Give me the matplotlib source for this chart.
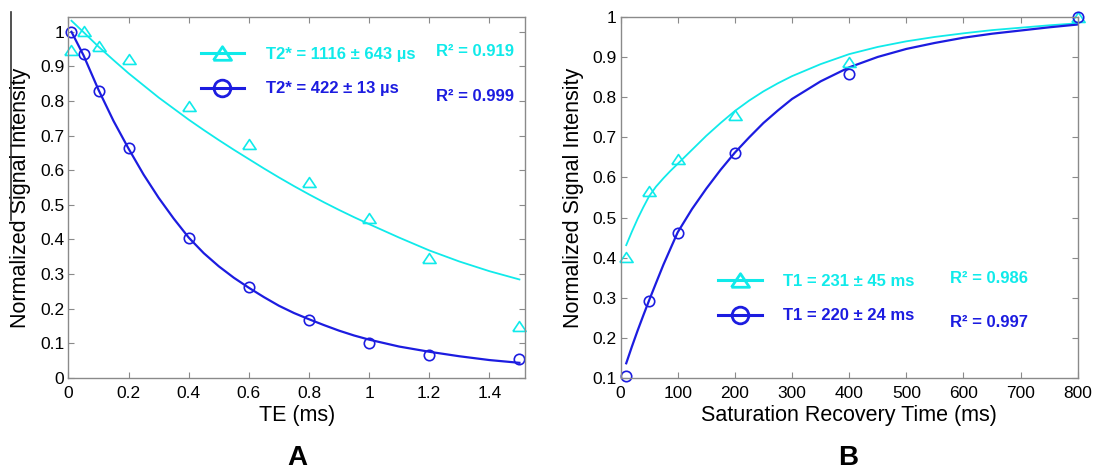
import matplotlib
matplotlib.use("Agg")
import matplotlib.pyplot as plt
from matplotlib.lines import Line2D

plt.rcParams["font.family"] = ["Liberation Sans", "DejaVu Sans"]

CYAN = "#10EAEA"
BLUE = "#1C1CE0"
TRI = [(-1.0, -0.75), (1.0, -0.75), (0.0, 0.75), (-1.0, -0.75)]

# panel A: T2* decay
te_ms = [0.01, 0.05, 0.1, 0.2, 0.4, 0.6, 0.8, 1.0, 1.2, 1.5]
a_tri = [0.947, 1.002, 0.960, 0.921, 0.785, 0.675, 0.566, 0.462, 0.345, 0.150]
a_circ = [1.000, 0.935, 0.830, 0.664, 0.403, 0.261, 0.166, 0.099, 0.066, 0.053]
a_fit_x = [0.01, 0.05, 0.1, 0.15, 0.2, 0.25, 0.3, 0.35, 0.4, 0.45, 0.5, 0.55, 0.6, 0.65,
           0.7, 0.75, 0.8, 0.85, 0.9, 0.95, 1.0, 1.1, 1.2, 1.3, 1.4, 1.5]
a_fit_tri = [1.032, 0.999, 0.957, 0.918, 0.880, 0.845, 0.810, 0.778, 0.746, 0.716, 0.687,
             0.659, 0.632, 0.605, 0.579, 0.554, 0.530, 0.507, 0.485, 0.464, 0.444, 0.405,
             0.368, 0.336, 0.308, 0.284]
a_fit_circ = [1.000, 0.932, 0.832, 0.742, 0.662, 0.587, 0.520, 0.460, 0.405, 0.360, 0.322,
              0.289, 0.260, 0.233, 0.208, 0.187, 0.169, 0.152, 0.136, 0.122, 0.110, 0.090,
              0.075, 0.062, 0.051, 0.043]
a_xticks = [0, 0.2, 0.4, 0.6, 0.8, 1.0, 1.2, 1.4]
a_xlabels = ["0", "0.2", "0.4", "0.6", "0.8", "1", "1.2", "1.4"]
a_yticks = [0, 0.1, 0.2, 0.3, 0.4, 0.5, 0.6, 0.7, 0.8, 0.9, 1.0]
a_ylabels = ["0", "0.1", "0.2", "0.3", "0.4", "0.5", "0.6", "0.7", "0.8", "0.9", "1"]
a_legend = ["T2* = 1116 \u00b1 643 \u00b5s", "T2* = 422 \u00b1 13 \u00b5s"]
a_r2 = ["R\u00b2 = 0.919", "R\u00b2 = 0.999"]

# panel B: T1 saturation recovery
sr_ms = [10, 50, 100, 200, 400, 800]
b_tri = [0.402, 0.565, 0.646, 0.756, 0.889, 1.000]
b_circ = [0.104, 0.292, 0.461, 0.661, 0.858, 1.000]
b_fit_x = [10, 20, 30, 40, 50, 62, 75, 87, 100, 125, 150, 175, 200, 225, 250, 275, 300,
           350, 400, 450, 500, 550, 600, 650, 700, 750, 800]
b_fit_tri = [0.431, 0.465, 0.497, 0.526, 0.553, 0.577, 0.598, 0.616, 0.634, 0.669, 0.704,
             0.736, 0.766, 0.792, 0.815, 0.835, 0.853, 0.883, 0.908, 0.926, 0.940, 0.951,
             0.960, 0.968, 0.974, 0.980, 0.985]
b_fit_circ = [0.136, 0.178, 0.218, 0.256, 0.293, 0.336, 0.382, 0.421, 0.463, 0.521, 0.572,
              0.619, 0.662, 0.700, 0.736, 0.767, 0.796, 0.840, 0.875, 0.901, 0.921, 0.936,
              0.949, 0.959, 0.967, 0.975, 0.982]
b_xticks = [0, 100, 200, 300, 400, 500, 600, 700, 800]
b_xlabels = ["0", "100", "200", "300", "400", "500", "600", "700", "800"]
b_yticks = [0.1, 0.2, 0.3, 0.4, 0.5, 0.6, 0.7, 0.8, 0.9, 1.0]
b_ylabels = ["0.1", "0.2", "0.3", "0.4", "0.5", "0.6", "0.7", "0.8", "0.9", "1"]
b_legend = ["T1 = 231 \u00b1 45 ms", "T1 = 220 \u00b1 24 ms"]
b_r2 = ["R\u00b2 = 0.986", "R\u00b2 = 0.997"]


def style_axes(ax, xticks, xlabels, yticks, ylabels):
    for sp in ax.spines.values():
        sp.set_color("#8a8a8a")
        sp.set_linewidth(1.0)
    ax.set_xticks(xticks)
    ax.set_xticklabels(xlabels)
    ax.set_yticks(yticks)
    ax.set_yticklabels(ylabels)
    ax.tick_params(direction="in", top=True, right=True, length=4, width=0.8,
                   color="#8a8a8a", labelsize=12.5, labelcolor="black")
    ax.tick_params(axis="x", pad=6)
    ax.tick_params(axis="y", pad=3)


def draw_panel(ax, x, tri, circ, fx, ftri, fcirc):
    ax.plot(fx, ftri, color=CYAN, lw=1.3)
    ax.plot(fx, fcirc, color=BLUE, lw=1.6)
    ax.plot(x, tri, ls="none", marker=TRI, ms=9.5, mfc="none", mec=CYAN, mew=1.2, clip_on=False)
    ax.plot(x, circ, ls="none", marker="o", ms=7.5, mfc="none", mec=BLUE, mew=1.2, clip_on=False)


def add_legend(ax, labels, r2, anchor, r2_x, r2_y):
    handles = [
        Line2D([], [], color=CYAN, lw=2.2, marker=TRI, ms=13, mfc="none", mew=2.0),
        Line2D([], [], color=BLUE, lw=2.2, marker="o", ms=12, mfc="none", mew=2.0),
    ]
    ax.legend(handles, labels, loc="center left", bbox_to_anchor=anchor, frameon=False,
              borderpad=0, borderaxespad=0, handlelength=2.6, handletextpad=1.3,
              labelspacing=1.15, labelcolor=[CYAN, BLUE],
              prop={"weight": "bold", "size": 12})
    for txt, y, c in zip(r2, r2_y, [CYAN, BLUE]):
        ax.text(r2_x, y, txt, transform=ax.transAxes, color=c, fontsize=12,
                fontweight="bold", va="center", ha="left")


fig = plt.figure(figsize=(10.94, 4.70), dpi=100)
ax_a = fig.add_axes([0.0626, 0.1964, 0.4177, 0.7668])
ax_b = fig.add_axes([0.5672, 0.1964, 0.4180, 0.7668])

draw_panel(ax_a, te_ms, a_tri, a_circ, a_fit_x, a_fit_tri, a_fit_circ)
ax_a.set_xlim(0, 1.52)
ax_a.set_ylim(0, 1.042)
style_axes(ax_a, a_xticks, a_xlabels, a_yticks, a_ylabels)
ax_a.set_xlabel("TE (ms)", fontsize=15.5)
ax_a.set_ylabel("Normalized Signal Intensity", fontsize=15.5)
ax_a.xaxis.set_label_coords(0.5, -0.075)
ax_a.yaxis.set_label_coords(-0.083, 0.5)
add_legend(ax_a, a_legend, a_r2, (0.289, 0.8485), 0.804, [0.9044, 0.7816])

draw_panel(ax_b, sr_ms, b_tri, b_circ, b_fit_x, b_fit_tri, b_fit_circ)
ax_b.set_xlim(0, 800)
ax_b.set_ylim(0.1, 1.0)
style_axes(ax_b, b_xticks, b_xlabels, b_yticks, b_ylabels)
ax_b.set_xlabel("Saturation Recovery Time (ms)", fontsize=15.5)
ax_b.set_ylabel("Normalized Signal Intensity", fontsize=15.5)
ax_b.xaxis.set_label_coords(0.5, -0.075)
ax_b.yaxis.set_label_coords(-0.080, 0.5)
add_legend(ax_b, b_legend, b_r2, (0.214, 0.2186), 0.7205, [0.2758, 0.1518])

fig.text(0.2715, 0.0106, "A", fontsize=20, fontweight="bold", ha="center", va="baseline")
fig.text(0.7755, 0.0106, "B", fontsize=20, fontweight="bold", ha="center", va="baseline")

# stray crop line at the left edge of the original figure
fig.add_artist(Line2D([0.0105, 0.0105], [0.532, 0.975], color="#333333", lw=1.2))

fig.savefig("out.png", dpi=100)
